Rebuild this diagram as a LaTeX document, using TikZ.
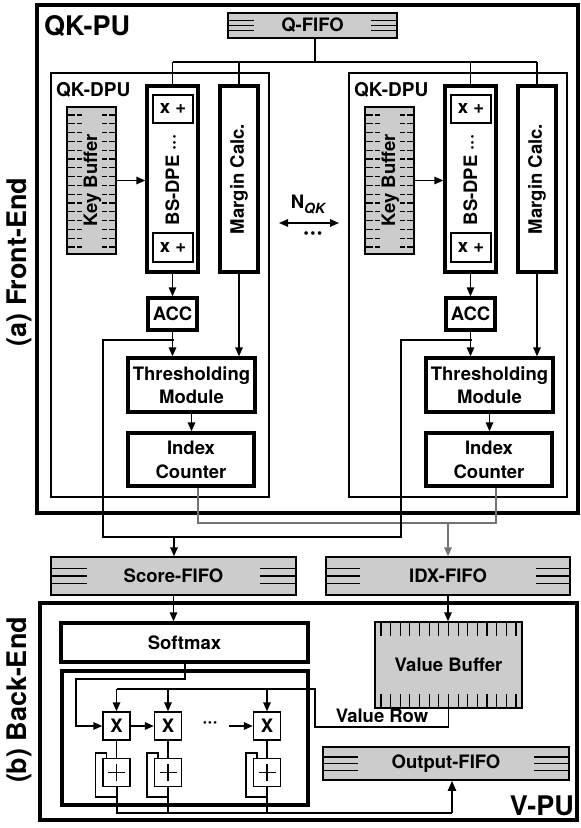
\documentclass[tikz,border=0pt]{standalone}
\usepackage{fontspec}
\setmainfont{TeX Gyre Heros}
\usetikzlibrary{arrows.meta}
\newcommand\rbox[7]{\node[#1, minimum width={((#5)-(#3))*1pt}, minimum height={((#6)-(#4))*1pt}] (#2) at ({((#3)+(#5))/2},{((#4)+(#6))/2}) {#7};}
\newcommand\fifo[7]{%
  \rbox{fifob}{#1}{#2}{#3}{#4}{#5}{#6}%
  \foreach \f in {0.3,0.5,0.7}{%
    \draw[line width=1.2pt] ({#2},{(#3)+\f*((#5)-(#3))}) -- ++(#7,0);
    \draw[line width=1.2pt] ({#4},{(#3)+\f*((#5)-(#3))}) -- ++(-#7,0);}%
}
\begin{document}
\begin{tikzpicture}[x=1pt,y=-1pt,
  every node/.style={font=\bfseries\fontsize{18.5}{20}\selectfont, inner sep=0pt, align=center},
  outer/.style={draw, line width=3.4pt},
  dpu/.style={draw, line width=2.2pt},
  buf/.style={draw, fill=gray!40, line width=1.4pt},
  mod/.style={draw, line width=3.4pt, fill=white},
  sub/.style={draw, line width=1.5pt, fill=white},
  fifob/.style={draw, fill=gray!40, line width=1.5pt},
  xb/.style={draw, line width=1.4pt, fill=white, minimum width=27pt, minimum height=28pt},
  tick/.style={line width=1.1pt},
  conn/.style={line width=1.5pt},
  arr/.style={conn, -{Triangle[length=9pt,width=7.5pt]}},
  gconn/.style={line width=1.7pt, draw=black!55},
  garr/.style={gconn, -{Triangle[length=9pt,width=7.5pt]}},
  big/.style={font=\bfseries\fontsize{27}{28}\selectfont},
]
\useasboundingbox (0,0) rectangle (581,828);

% ---------- Front end ----------
\rbox{outer}{qkpu}{37}{5}{578}{513}{}
\node[big, anchor=north west] (qkpulab) at (44,15) {QK-PU};
\node[big, rotate=90] (felab) at (19,262) {(a) Front-End};

\fifo{qfifo}{228}{13}{397}{38}{Q-FIFO}{26}

\coordinate (qb) at (315,62);

\foreach \d/\n in {0/L,298/R}{
  \rbox{dpu}{dpu\n}{51+\d}{73}{269+\d}{497}{}
  \node[anchor=north west, font=\bfseries\fontsize{19}{20}\selectfont] (dpulab\n) at (56+\d,82) {QK-DPU};
  % key buffer
  \rbox{buf}{kb\n}{67+\d}{107}{116+\d}{254}{}
  \foreach \i in {0,...,15}{
    \pgfmathsetmacro\yy{115+8.8*\i}
    \draw[tick] (67+\d,\yy) -- ++(8,0) (77+\d,\yy) -- ++(5,0)
                (102+\d,\yy) -- ++(5,0) (109+\d,\yy) -- ++(7,0);
  }
  \node[rotate=90] (kbt\n) at (92.5+\d,180.5) {Key Buffer};
  % BS-DPE
  \rbox{mod}{bs\n}{147+\d}{86}{198+\d}{272}{}
  \rbox{sub}{xa\n}{153+\d}{95}{193+\d}{123}{x +}
  \rbox{sub}{xc\n}{153+\d}{233}{193+\d}{262}{x +}
  \node[rotate=90] (bst\n) at (172.5+\d,180) {BS-DPE ···};
  % Margin
  \rbox{mod}{mg\n}{220+\d}{86}{258+\d}{272}{}
  \node[rotate=90] (mgt\n) at (mg\n.center) {Margin Calc.};
  % ACC / thresholding / index
  \rbox{mod}{acc\n}{148+\d}{298}{197+\d}{330}{ACC}
  \rbox{mod, font=\bfseries\fontsize{18.5}{23}\selectfont}{thr\n}{128+\d}{358}{255+\d}{412}{Thresholding\\Module}
  \rbox{mod, font=\bfseries\fontsize{18.5}{24}\selectfont}{idx\n}{128+\d}{433}{254+\d}{486}{Index\\Counter}
  % connectors
  \draw[arr] (kb\n.east) -- (kb\n.east -| bs\n.west);
  \draw[arr] (bs\n.south) -- (acc\n.north);
  \draw[arr] (acc\n.south) -- (acc\n.south |- thr\n.north);
  \draw[arr] (mg\n.south) -- (mg\n.south |- thr\n.north);
  \draw[arr] (thr\n.south) -- (thr\n.south |- idx\n.north);
  \draw[conn] (bs\n.north |- qb) -- (bs\n.north);
  \draw[conn] (mg\n.north |- qb) -- (mg\n.north);
  \coordinate (br\n) at (174+\d,340);
}
\draw[conn] (qfifo.south -| qb) -- (qb);
\draw[conn] (bsL.north |- qb) -- (mgR.north |- qb);

% score / index routing
\coordinate (bl) at (103,537);
\coordinate (brr) at (401,537);
\coordinate (bsx) at (174,537);
\coordinate (gl) at (198,523);
\coordinate (gr) at (496,523);
\coordinate (gi) at (448,523);

\fifo{scorefifo}{51}{557}{296}{595}{Score-FIFO}{36}
\fifo{idxfifo}{326}{557}{570}{595}{IDX-FIFO}{34}

\draw[gconn] (idxL.south -| gl) -- (gl) -- (gr) -- (idxR.south -| gr);
\draw[garr] (gi) -- (idxfifo.north -| gi);
\draw[conn] (brL) -- (brL -| bl) -- (bl) -- (brr) -- (brR -| brr) -- (brR);
\draw[arr] (bsx) -- (scorefifo.north -| bsx);

% N_QK
\node (nqk) at (308,205) {N\raisebox{-5pt}{\fontsize{14}{14}\selectfont\bfseries\itshape QK}};
\coordinate (nq1) at (279,223);
\coordinate (nq2) at (339,223);
\draw[conn, {Triangle[length=9pt,width=7.5pt]}-{Triangle[length=9pt,width=7.5pt]}] (nq1) -- (nq2);
\node[font=\bfseries\fontsize{24}{24}\selectfont] (ndots) at (313,236) {···};

% ---------- Back end ----------
\rbox{outer}{vpu}{40}{603}{577}{820}{}
\node[big, anchor=south east] (vpulab) at (574,816) {V-PU};
\node[big, rotate=90] (belab) at (19,700) {(b) Back-End};

\rbox{mod}{softmax}{61}{623}{308}{662}{Softmax}
\draw[arr] (scorefifo.south) -- (scorefifo.south |- softmax.north);
\rbox{mod}{mac}{62}{671}{308}{805}{}

% value buffer
\rbox{buf}{vbuf}{375}{622}{522}{708}{Value Buffer}
\foreach \i in {0,...,14}{
  \pgfmathsetmacro\xx{381+9.64*\i}
  \draw[tick] (\xx,622) -- ++(0,14) (\xx,708) -- ++(0,-14);
}
\draw[arr] (idxfifo.south) -- (idxfifo.south |- vbuf.north);

\fifo{ofifo}{323}{747}{569}{780}{Output-FIFO}{35}

% MAC cells
\node[xb] (x1) at (116.5,726) {X};
\node[xb] (x2) at (168,726) {X};
\node[xb] (x3) at (267,726) {X};
\node[xb] (p1) at (116.5,772.5) {};
\node[xb] (p2) at (168,772.5) {};
\node[xb] (p3) at (267,772.5) {};
\foreach \p in {p1,p2,p3}{
  \draw[line width=1.8pt] ([xshift=-8.5pt]\p.center) -- ([xshift=8.5pt]\p.center)
                          ([yshift=-8.5pt]\p.center) -- ([yshift=8.5pt]\p.center);
  \draw[conn] ([xshift=4pt]\p.north west) -- ++(0,-5) -- ++(-11,0) -- ++(0,44) -- ++(20.5,0);
}
\draw[conn] (x1.south) -- (p1.north);
\draw[conn] (x2.south) -- (p2.north);
\draw[conn] (x3.south) -- (p3.north);

% softmax output to first X
\coordinate (s1) at (185,679);
\coordinate (s2) at (76,679);
\draw[arr] (softmax.south -| s1) -- (s1) -- (s2) -- (s2 |- x1.west) -- (x1.west);
\draw[arr] (x1.east) -- (x2.west);
\node (xdots) at (210,724) {···};
\coordinate (d3) at (229,726);
\draw[arr] (d3) -- (x3.west);

% value row
\coordinate (vr1) at (315,727);
\coordinate (vr2) at (315,689);
\draw[conn] (vbuf.south) -- (vbuf.south |- vr1) -- (vr1) -- (vr2) -- (vr2 -| x1.north);
\draw[arr] (vr2 -| x1.north) -- (x1.north);
\draw[arr] (vr2 -| x2.north) -- (x2.north);
\draw[arr] (vr2 -| x3.north) -- (x3.north);
\node (vrow) at (382,716) {Value Row};

% output bus
\coordinate (ob) at (452,813);
\draw[line width=2pt] (p1.south) -- (p1.south |- ob) -- (ob);
\draw[line width=2pt] (p2.south) -- (p2.south |- ob);
\draw[line width=2pt] (p3.south) -- (p3.south |- ob);
\draw[line width=2pt, -{Triangle[length=10pt,width=8pt]}] (ob) -- (ofifo.south -| ob);
\end{tikzpicture}
\end{document}
